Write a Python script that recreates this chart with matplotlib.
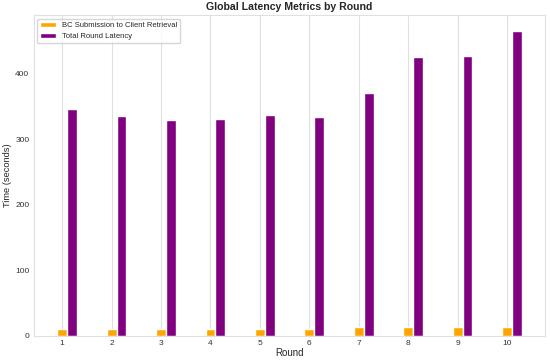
import matplotlib.pyplot as plt
import numpy as np
import seaborn as sns

sns.set_style("whitegrid")
plt.rcParams['font.family'] = ['Liberation Sans', 'DejaVu Sans']

# Data
rounds = [1, 2, 3, 4, 5, 6, 7, 8, 9, 10]
bc_retrieval = [10.2, 10.4, 10.9, 10.4, 10.2, 10.4, 12.8, 13.3, 12.8, 13.3]
total_latency = [345.6, 335.0, 329.8, 331.3, 337.0, 333.4, 370.5, 425.0, 426.5, 465.6]

x = np.array(rounds)
width = 0.2

fig, ax = plt.subplots(figsize=(5.5, 3.61), dpi=100)

ax.bar(x, bc_retrieval, width, label='BC Submission to Client Retrieval', color='orange')
ax.bar(x + width, total_latency, width, label='Total Round Latency', color='purple')

ax.set_title('Global Latency Metrics by Round', fontsize=7.6, fontweight='bold', pad=4)
ax.set_xlabel('Round', fontsize=7, labelpad=1)
ax.set_ylabel('Time (seconds)', fontsize=6.7, labelpad=2.5)
ax.set_xticks(x)
ax.set_xticklabels([str(r) for r in rounds])
ax.tick_params(labelsize=6, length=0, pad=3, labelcolor='#333333')
ax.set_xlim(0.42, 10.77)
ax.set_ylim(0, 489.6)
ax.grid(axis='y', visible=False)
ax.grid(axis='x', color='#e0e0e0', linewidth=0.8)
for s in ax.spines.values():
    s.set_color('#e0e0e0')

ax.legend(loc='upper left', fontsize=5.5, frameon=True, labelspacing=0.45)

plt.subplots_adjust(left=0.061, right=0.991, top=0.958, bottom=0.07)
plt.savefig('out.png', dpi=100)
